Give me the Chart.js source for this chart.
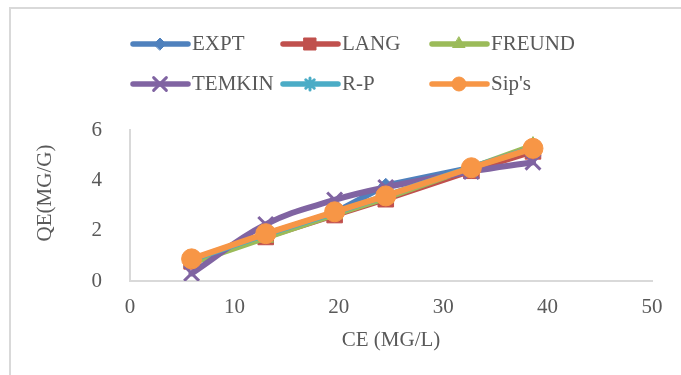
<!DOCTYPE html>
<html>
<head>
<meta charset="utf-8">
<script src="https://cdn.jsdelivr.net/npm/chart.js@4.4.1/dist/chart.umd.min.js"></script>
<style>
  html, body { margin: 0; padding: 0; background: #fff; }
  #wrap { position: relative; width: 681px; height: 375px; overflow: hidden; }
</style>
</head>
<body>
<div id="wrap"><canvas id="chart" width="681" height="375"></canvas></div>
<script>
// --- data ---
const CE = [5.9, 13.0, 19.6, 24.5, 32.7, 38.6];
const EXPT   = [0.83, 1.85, 2.72, 3.80, 4.50, 5.22];
const LANG   = [0.78, 1.75, 2.62, 3.25, 4.38, 5.15];
const FREUND = [0.72, 1.72, 2.65, 3.30, 4.50, 5.38];
const TEMKIN = [0.30, 2.25, 3.22, 3.72, 4.35, 4.72];
const RP     = [0.85, 1.85, 2.72, 3.38, 4.52, 5.28];
const SIPS   = [0.88, 1.88, 2.75, 3.38, 4.50, 5.27];
const SERIES_NAMES = ["EXPT", "LANG", "FREUND", "TEMKIN", "R-P", "Sip's"];
const X_TICKS = [0, 10, 20, 30, 40, 50];
const Y_TICKS = [0, 2, 4, 6];

(function () {
  "use strict";

  const FONT = "'Liberation Serif', 'Times New Roman', serif";
  const TXT = "#595959";
  const AXIS = "#d9d9d9";

  const values = [EXPT, LANG, FREUND, TEMKIN, RP, SIPS];
  const colors = ["#4F81BD", "#C0504D", "#9BBB59", "#8064A2", "#4BACC6", "#F79646"];
  const styles = ["rectRot", "rect", "triangle", "crossRot", "star", "circle"];
  const radii = [7, 11, 9, 10.5, 7, 10];
  const legendRadii = [6, 8.5, 7, 9, 6, 7];
  const thin = (s) => s === "crossRot" || s === "star";

  const pts = (arr) => arr.map((y, i) => ({ x: CE[i], y: y }));

  const datasets = SERIES_NAMES.map((name, i) => ({
    label: name,
    data: pts(values[i]),
    showLine: true,
    borderColor: colors[i],
    backgroundColor: colors[i],
    pointBackgroundColor: colors[i],
    pointBorderColor: colors[i],
    pointStyle: styles[i],
    pointRadius: radii[i],
    pointBorderWidth: thin(styles[i]) ? 3 : 1,
    borderWidth: 6,
    borderCapStyle: "round",
    borderJoinStyle: "round",
    tension: name === "TEMKIN" ? 0.4 : 0,
    order: SERIES_NAMES.length - i,
  }));

  // --- frame + legend + y title ---
  const decor = {
    id: "decor",
    beforeDraw(chart) {
      const ctx = chart.ctx;
      ctx.save();
      ctx.fillStyle = "#fff";
      ctx.fillRect(0, 0, chart.width, chart.height);
      ctx.strokeStyle = AXIS;
      ctx.lineWidth = 2;
      ctx.strokeRect(10, 8, 720, 420);
      ctx.restore();
    },
    afterDraw(chart) {
      const ctx = chart.ctx;
      const cols = [133, 283, 432];
      const rows = [44, 84];
      ctx.save();
      SERIES_NAMES.forEach((name, i) => {
        const x = cols[i % 3];
        const y = rows[Math.floor(i / 3)];
        ctx.strokeStyle = colors[i];
        ctx.lineWidth = 5.5;
        ctx.lineCap = "round";
        ctx.beginPath();
        ctx.moveTo(x, y);
        ctx.lineTo(x + 55, y);
        ctx.stroke();
        ctx.fillStyle = colors[i];
        ctx.strokeStyle = colors[i];
        ctx.lineWidth = thin(styles[i]) ? 3 : 1;
        Chart.helpers.drawPoint(ctx, {
          pointStyle: styles[i],
          radius: legendRadii[i],
          rotation: 0,
          borderWidth: ctx.lineWidth,
        }, x + 27, y);
        ctx.fillStyle = TXT;
        ctx.font = "21px " + FONT;
        ctx.textBaseline = "middle";
        ctx.textAlign = "left";
        ctx.fillText(name, x + 59, y);
      });
      // y axis title
      ctx.translate(45, 193);
      ctx.rotate(-Math.PI / 2);
      ctx.textAlign = "center";
      ctx.fillText("QE(MG/G)", 0, 0);
      ctx.restore();
    },
  };

  new Chart(document.getElementById("chart"), {
    type: "scatter",
    data: { datasets: datasets },
    options: {
      responsive: false,
      animation: false,
      layout: { padding: { top: 130, right: 29, bottom: 0, left: 0 } },
      scales: {
        x: {
          type: "linear",
          min: 0,
          max: 50,
          afterBuildTicks: (s) => { s.ticks = X_TICKS.map((v) => ({ value: v })); },
          afterFit: (s) => { s.height = 94; },
          grid: { display: false },
          border: { display: true, color: AXIS, width: 2 },
          ticks: { color: TXT, padding: 6, font: { family: FONT, size: 21 } },
          title: {
            display: true,
            text: "CE (MG/L)",
            color: TXT,
            padding: { top: 0, bottom: 22 },
            font: { family: FONT, size: 21 },
          },
        },
        y: {
          type: "linear",
          min: 0,
          max: 6,
          afterBuildTicks: (s) => { s.ticks = Y_TICKS.map((v) => ({ value: v })); },
          afterFit: (s) => { s.width = 130; },
          grid: { display: false },
          border: { display: true, color: AXIS, width: 2 },
          ticks: { color: TXT, padding: 20, font: { family: FONT, size: 21 } },
        },
      },
      plugins: {
        legend: { display: false },
        tooltip: { enabled: false },
      },
    },
    plugins: [decor],
  });
})();
</script>
</body>
</html>
